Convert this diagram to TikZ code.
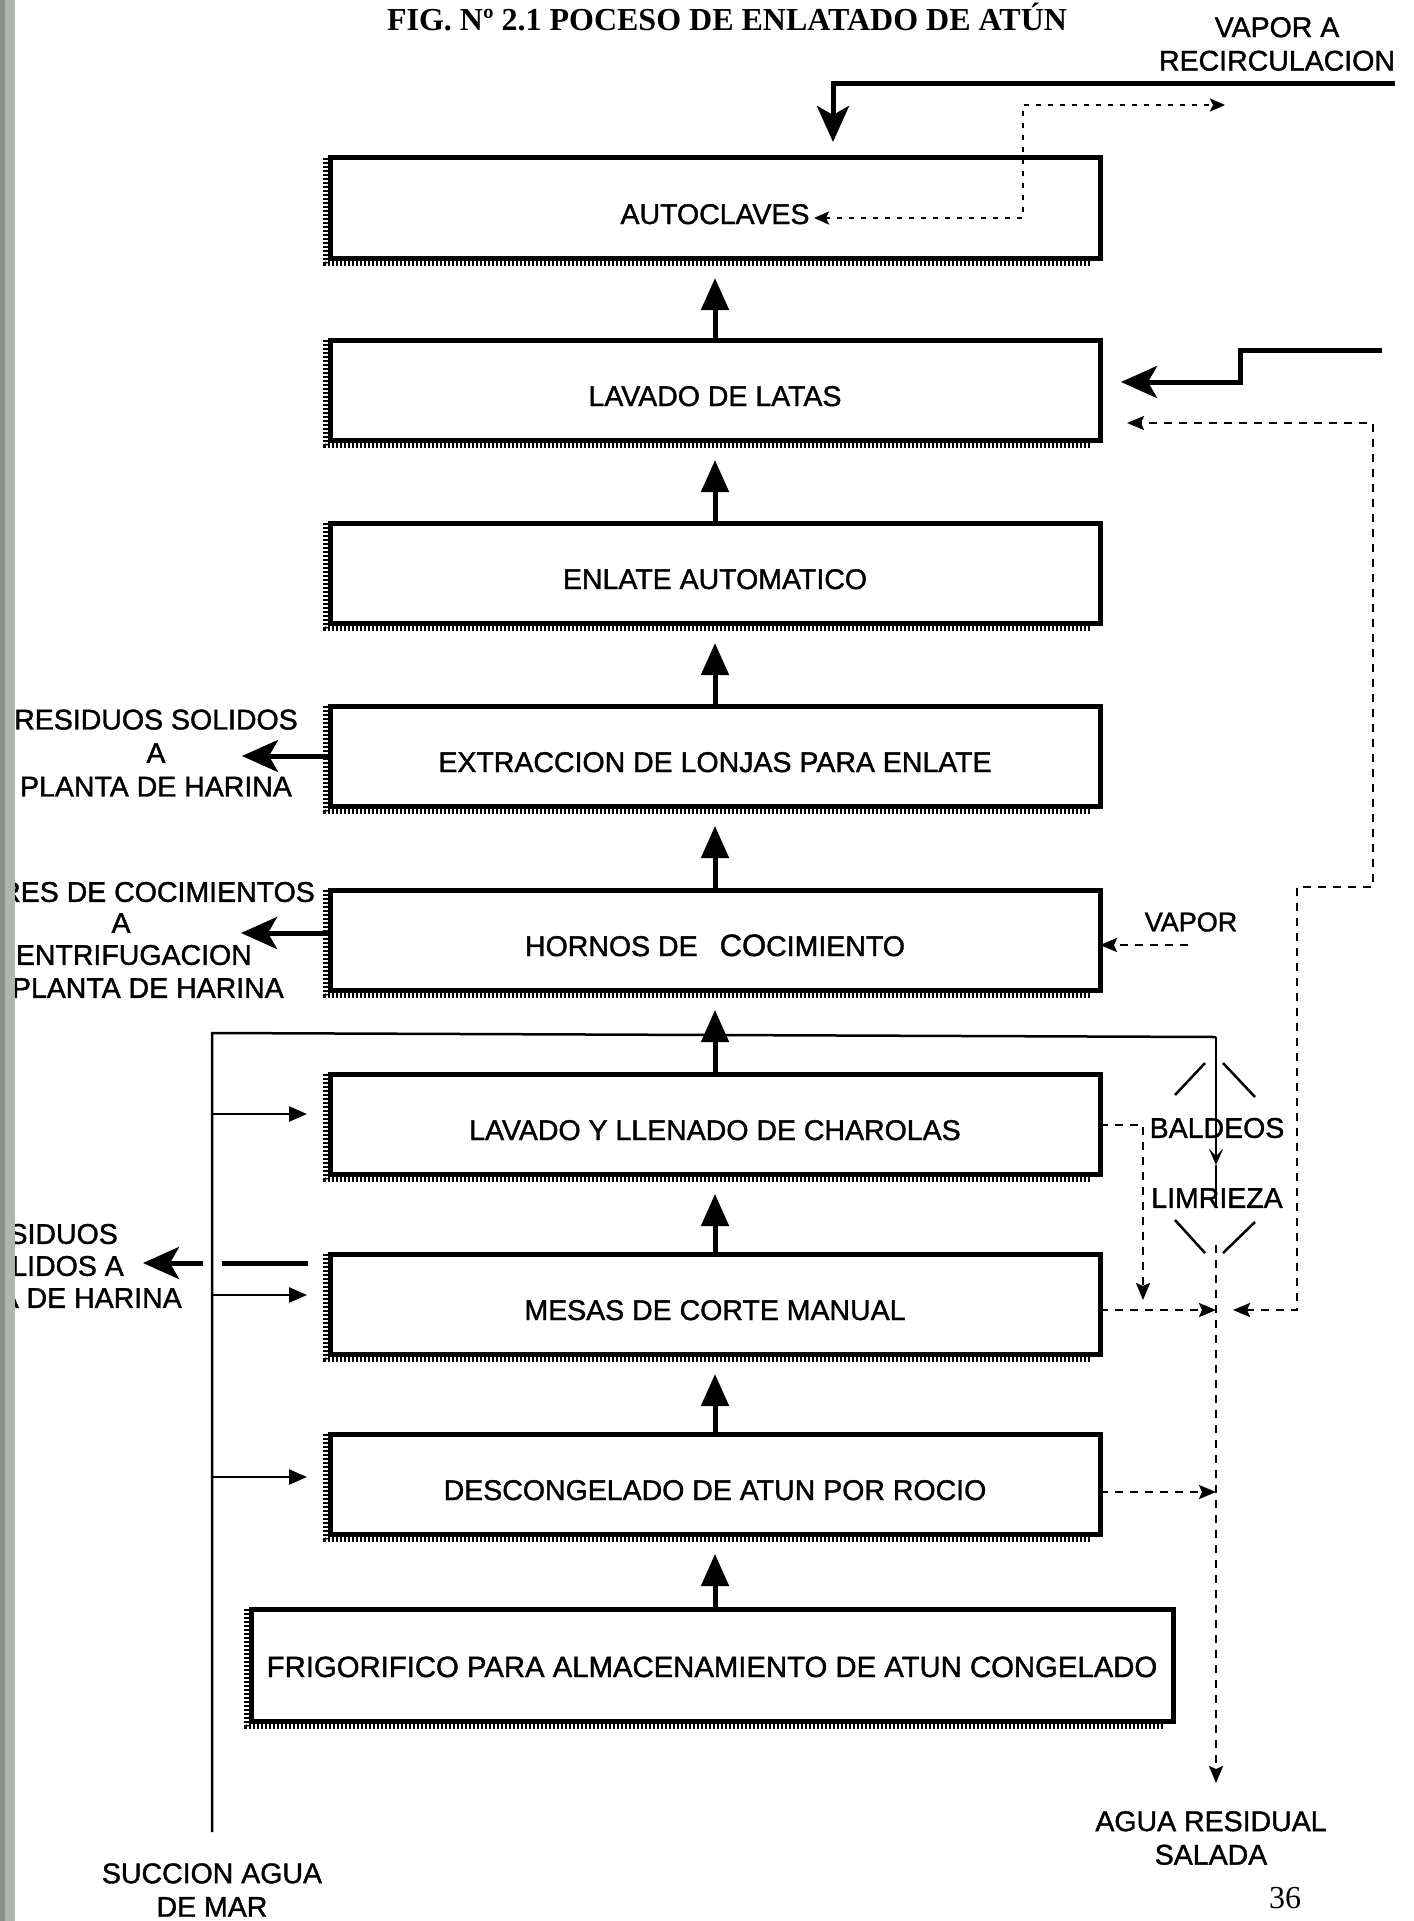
\documentclass[tikz,border=0pt]{standalone}
\usepackage{fontspec}
\setmainfont{Liberation Serif}
\newfontfamily\sansf[FakeBold=1.3]{Liberation Sans}
\usetikzlibrary{arrows.meta}
\newcommand{\lblfont}{\sansf\fontsize{28.5}{33.5}\selectfont}
\begin{document}
\begin{tikzpicture}[x=1pt,y=-1pt,
  lbl/.style={font=\lblfont, inner sep=0pt, align=center},
  procbox/.style={draw, line width=5pt, inner sep=0pt, outer sep=0pt,
    minimum width=770pt, minimum height=100pt, font=\lblfont,
    text height=32pt, text depth=0pt},
  serr/.style={line width=5pt, dash pattern=on 2pt off 2pt},
  flow/.style={line width=5pt, -{Triangle[length=32pt,width=27pt]}, shorten >=20pt},
  heavy/.style={line width=5pt, -{Stealth[length=36pt,width=32pt,inset=9pt]}},
  heavyline/.style={line width=5pt},
  feed/.style={line width=2.5pt, -{Triangle[length=18pt,width=15pt]}},
  feedline/.style={line width=2.5pt},
  wet/.style={line width=2.5pt, dash pattern=on 8pt off 7pt,
    -{Stealth[length=17pt,width=14pt,inset=3pt]}},
  wetboth/.style={line width=2.5pt, dash pattern=on 8pt off 7pt,
    {Stealth[length=17pt,width=14pt,inset=3pt]}-{Stealth[length=17pt,width=14pt,inset=3pt]}},
  steamdots/.style={line width=2.5pt, dash pattern=on 5pt off 7pt,
    {Stealth[length=15pt,width=13pt,inset=3pt]}-{Stealth[length=15pt,width=13pt,inset=3pt]}},
]
\useasboundingbox (0,0) rectangle (1413,1921);
\fill[white] (0,0) rectangle (1413,1921);

% title and page number
\node[anchor=base, inner sep=0pt, font=\bfseries\fontsize{32}{36}\selectfont] (title) at (727,31)
  {FIG. Nº 2.1 POCESO DE ENLATADO DE ATÚN};
\node[anchor=base, inner sep=0pt, font=\fontsize{32}{36}\selectfont] (pagenum) at (1285,1908) {36};

% process boxes
\node[procbox] (autoclaves) at (715,208) {AUTOCLAVES};
\node[procbox] (latas) at (715,390) {LAVADO DE LATAS};
\node[procbox] (enlate) at (715,573) {ENLATE AUTOMATICO};
\node[procbox] (extraccion) at (715,756) {EXTRACCION DE LONJAS PARA ENLATE};
\node[procbox] (hornos) at (715,940) {HORNOS DE\hspace{22pt}{\fontsize{31}{34}\selectfont CO}CIMIENTO};
\node[procbox] (llenado) at (715,1124) {LAVADO Y LLENADO DE CHAROLAS};
\node[procbox] (mesas) at (715,1304) {MESAS DE CORTE MANUAL};
\node[procbox] (descong) at (715,1484) {DESCONGELADO DE ATUN POR ROCIO};
\node[procbox, minimum width=922pt, minimum height=112pt, text height=24pt,
  font=\sansf\fontsize{29.3}{34}\selectfont] (frigo) at (712,1665)
  {FRIGORIFICO PARA ALMACENAMIENTO DE ATUN CONGELADO};

% ragged left and bottom edges of the boxes
\foreach \b in {autoclaves,latas,enlate,extraccion,hornos,llenado,mesas,descong,frigo}{
  \draw[serr] ([xshift=-5pt]\b.north west) -- ([xshift=-5pt,yshift=-5pt]\b.south west)
              -- ([xshift=-10pt,yshift=-5pt]\b.south east);
}

% main product flow
\draw[flow] (frigo.north -| descong.south) -- (descong.south);
\draw[flow] (descong.north) -- (mesas.south);
\draw[flow] (mesas.north) -- (llenado.south);
\draw[flow] (llenado.north) -- (hornos.south);
\draw[flow] (hornos.north) -- (extraccion.south);
\draw[flow] (extraccion.north) -- (enlate.south);
\draw[flow] (enlate.north) -- (latas.south);
\draw[flow] (latas.north) -- (autoclaves.south);

% steam to the retorts and return
\coordinate (vap_src) at (1395,84);
\coordinate (vap_turn) at (833,84);
\coordinate (vap_tip) at (833,142);
\draw[heavy] (vap_src) -- (vap_turn) -- (vap_tip);
\node[lbl] (recirc) at (1277,44) {VAPOR A\\RECIRCULACION};
\coordinate (rec_in) at (814,218);
\coordinate (rec_up) at (1023,218);
\coordinate (rec_top) at (1023,105);
\coordinate (rec_out) at (1225,105);
\draw[steamdots] (rec_in) -- (rec_up) -- (rec_top) -- (rec_out);

% water to the can washer
\coordinate (lw_src) at (1382,350);
\coordinate (lw_a) at (1240,350);
\coordinate (lw_b) at (1240,382);
\coordinate (lw_tip) at (1121,382);
\draw[heavy] (lw_src) -- (lw_a) -- (lw_b) -- (lw_tip);

% solid residues and cooking liquors
\coordinate (ext_tip) at (242,756);
\draw[heavy] (extraccion.west) -- (ext_tip);
\node[lbl] (res1) at (156,753) {RESIDUOS SOLIDOS\\A\\PLANTA DE HARINA};
\coordinate (hor_tip) at (241,933);
\draw[heavy] (hor_tip -| hornos.west) -- (hor_tip);
\node[lbl, anchor=east] (coc1) at (315,892) {RES DE COCIMIENTOS};
\node[lbl] (coc2) at (121,923) {A};
\node[lbl, anchor=east] (coc3) at (252,955) {CENTRIFUGACION};
\node[lbl, anchor=east] (coc4) at (284,988) {PLANTA DE HARINA};

% steam to the ovens
\coordinate (hv_src) at (1188,945);
\draw[wet] (hv_src) -- (hv_src -| hornos.east);
\node[lbl, font=\sansf\fontsize{27}{32}\selectfont] (vapor) at (1191,922) {VAPOR};

% sea water header
\coordinate (sw_top) at (212,1033);
\coordinate (sw_bot) at (212,1832);
\coordinate (bal_corner) at (1216,1037);
\coordinate (bal_tip) at (1216,1165);
\coordinate (bal_end) at (1216,1207);
\draw[feedline] (sw_bot) -- (sw_top) -- (bal_corner);
\draw[line width=2.5pt, -{Stealth[length=16pt,width=14pt,inset=7pt]}] (bal_corner) -- (bal_tip);
\draw[feedline] (bal_tip) -- (bal_end);
\node[lbl] (succion) at (212,1890) {SUCCION AGUA\\DE MAR};

\coordinate (sw1) at (212,1114);
\coordinate (sw2) at (212,1295);
\coordinate (sw3) at (212,1477);
\draw[feed] (sw1) -- ([xshift=-23pt]sw1 -| llenado.west);
\draw[feed] (sw2) -- ([xshift=-23pt]sw2 -| mesas.west);
\draw[feed] (sw3) -- ([xshift=-23pt]sw3 -| descong.west);

% cutting-table residues, crossing the header
\coordinate (mo_a) at (308,1263);
\coordinate (mo_b) at (222,1263);
\coordinate (mo_c) at (203,1263);
\coordinate (mo_tip) at (143,1263);
\draw[heavyline] (mo_a) -- (mo_b);
\draw[heavy] (mo_c) -- (mo_tip);
\node[lbl, anchor=east] (mr1) at (118,1234) {SIDUOS};
\node[lbl, anchor=east] (mr2) at (124,1266) {OLIDOS A};
\node[lbl, anchor=east] (mr3) at (182,1298) {A DE HARINA};

% rinsing and cleaning
\node[lbl] (baldeos) at (1217,1128) {BALDEOS};
\node[lbl] (limrieza) at (1217,1198) {LIMRIEZA};
\draw[feedline] (1175,1095) -- (1205,1063);
\draw[feedline] (1223,1063) -- (1255,1097);
\draw[feedline] (1175,1220) -- (1205,1253);
\draw[feedline] (1223,1253) -- (1255,1222);

% waste water collection
\coordinate (ll_out) at (1143,1125);
\coordinate (ll_tip) at (1143,1300);
\draw[wet] (ll_out -| llenado.east) -- (ll_out) -- (ll_tip);
\coordinate (drain_top) at (1216,1245);
\coordinate (drain_end) at (1216,1783);
\coordinate (ms_in) at (1216,1310);
\coordinate (ds_in) at (1216,1492);
\draw[wet] (ms_in -| mesas.east) -- (ms_in);
\draw[wet] (ds_in -| descong.east) -- (ds_in);
\draw[wet] (drain_top) -- (drain_end);
\node[lbl] (agua) at (1211,1838) {AGUA RESIDUAL\\SALADA};

% can washer water loop
\coordinate (rt_a) at (1233,1310);
\coordinate (rt_b) at (1297,1310);
\coordinate (rt_c) at (1297,887);
\coordinate (rt_d) at (1373,887);
\coordinate (rt_e) at (1373,423);
\coordinate (rt_f) at (1127,423);
\draw[wetboth] (rt_a) -- (rt_b) -- (rt_c) -- (rt_d) -- (rt_e) -- (rt_f);

% binding shadow along the left edge
\fill[black!30!green!4!white!72!black] (0,0) rectangle (15,1921);
\fill[black!45] (0,0) rectangle (5,1921);
\end{tikzpicture}
\end{document}
